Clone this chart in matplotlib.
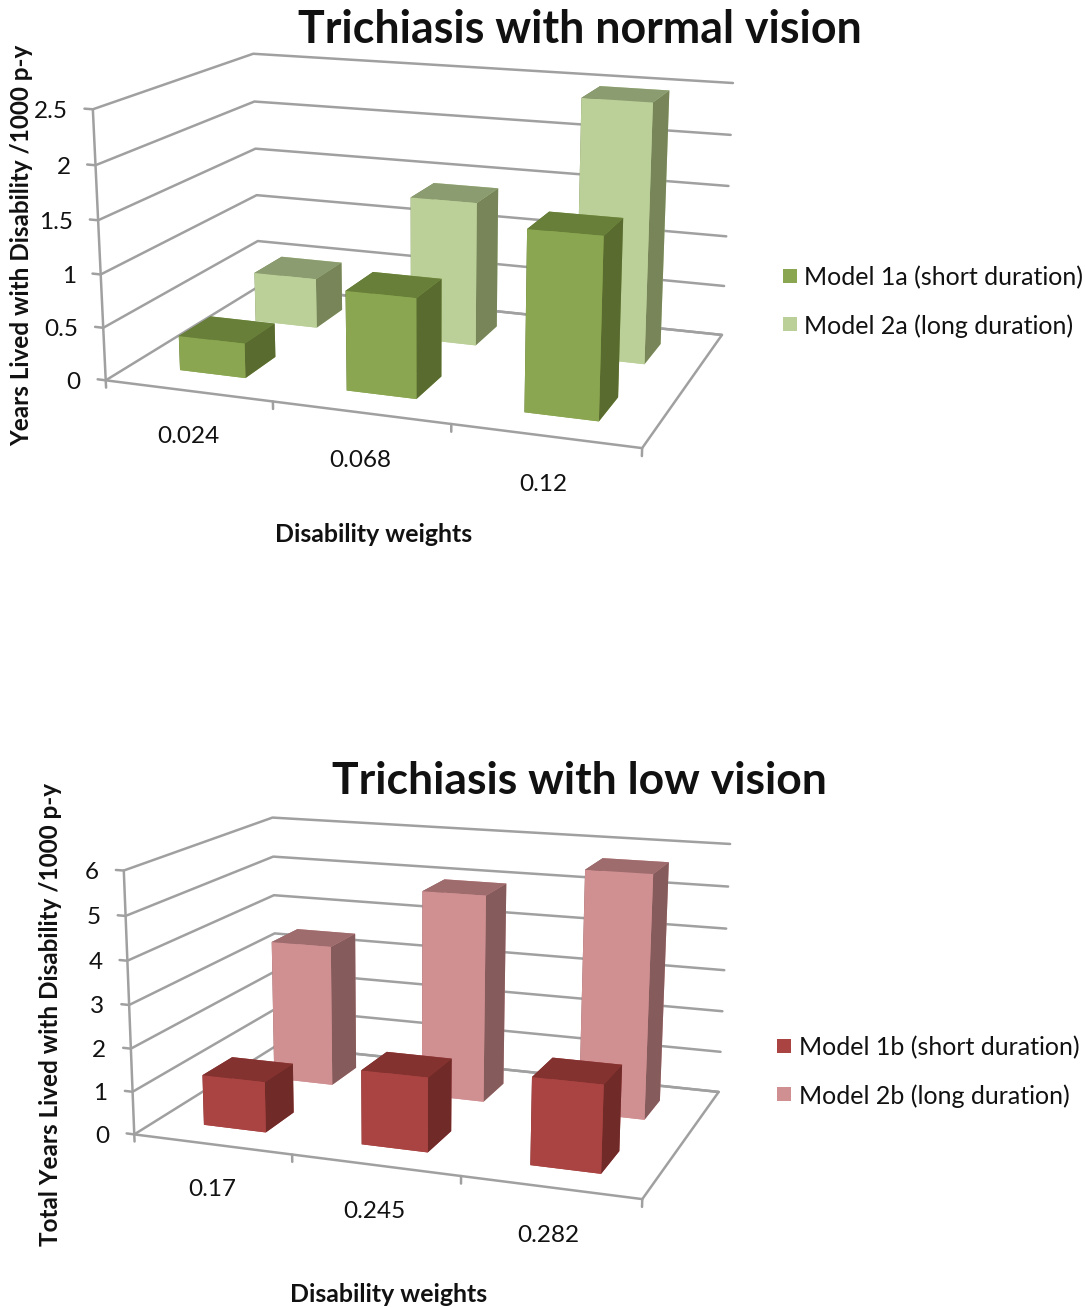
import matplotlib
matplotlib.use('Agg')
import matplotlib.pyplot as plt
import numpy as np
from matplotlib.patches import Rectangle

W, H = 1085, 1307

plt.rcParams['font.family'] = ['Lato', 'DejaVu Sans']

# values
weights_a = ['0.024', '0.068', '0.12']
model_1a = [0.33, 0.93, 1.64]
model_2a = [0.50, 1.41, 2.48]
ticks_a = [0, 0.5, 1, 1.5, 2, 2.5]
tick_labels_a = ['0', '0.5', '1', '1.5', '2', '2.5']

weights_b = ['0.17', '0.245', '0.282']
model_1b = [1.18, 1.70, 1.96]
model_2b = [3.44, 4.95, 5.70]
ticks_b = [0, 1, 2, 3, 4, 5, 6]
tick_labels_b = ['0', '1', '2', '3', '4', '5', '6']

# colours of a bar: front, side, top
greens = ('#8aa650', '#5a6b30', '#677f38')
light_greens = ('#bbd098', '#778559', '#8b9c70')
reds = ('#a94442', '#702a28', '#843230')
pinks = ('#d09092', '#865b5c', '#9f6c6e')
GRID = '#a0a0a0'
INK = '#111111'


def fit_camera(world, pixels):
    # 3x4 camera matrix from box corners and where they sit in the image
    rows = []
    for (x, y, z), (u, v) in zip(world, pixels):
        rows.append([x, y, z, 1, 0, 0, 0, 0, -u*x, -u*y, -u*z, -u])
        rows.append([0, 0, 0, 0, x, y, z, 1, -v*x, -v*y, -v*z, -v])
    P = np.linalg.svd(np.array(rows))[2][-1].reshape(3, 4)
    if P[2] @ np.array([1.5, 0.5, 0, 1]) < 0:
        P = -P
    return P


def text_px(u, v, s, **kw):
    # text placed in image pixels, lato sits a bit high when centred
    return fig.text(u/W, 1 - (v + 2)/H, s, va='center', color=INK, **kw)


def box_chart(world, pixels, cats, front, back, ticks, tick_labels,
              front_cols, back_cols):
    zmax = ticks[-1]
    P = fit_camera(world, pixels)

    def to_px(x, y, z):
        u, v, w = P @ np.array([x, y, z, 1])
        return u/w, v/w

    ax = fig.add_axes([0, 0, 1, 1], projection='3d')
    ax.set_axis_off()
    ax.patch.set_visible(False)
    ax.computed_zorder = False
    ax.apply_aspect = lambda position=None: None

    def get_proj():
        flip = np.array([[1, 0, 0], [0, -1, H], [0, 0, 1]])
        A = ax.transData.inverted().get_matrix() @ flip @ P
        return np.vstack([A[0], A[1], [0, 0, 0, -1], A[2]])
    ax.get_proj = get_proj

    def line(xs, ys, zs):
        ax.plot(xs, ys, zs, color=GRID, lw=1.8, zorder=1,
                solid_capstyle='round')

    # walls and floor
    for z, lab in zip(ticks, tick_labels):
        line([-0.05, 0, 0, 3], [0, 0, 1, 1], [z, z, z, z])
        u, v = to_px(0, 0, z)
        text_px(u - 25, v, lab, fontsize=17.5, ha='right')
    line([0, 0], [0, 0], [0, zmax])
    line([0, 3, 3, 0], [0, 0, 1, 1], [0, 0, 0, 0])
    for i in range(4):
        line([i, i], [0, 0], [0, -0.028*zmax])
    for i, lab in enumerate(cats):
        u, v = to_px(i + 0.495, 0, -0.165*zmax)
        text_px(u, v + 1, lab, fontsize=17.5, ha='center')

    # bars, 150% gap in width and depth
    for vals, yc, cols, zo in ((back, 0.75, back_cols, 2),
                               (front, 0.25, front_cols, 3)):
        f, s, t = cols
        for i, v in enumerate(vals):
            # bottom, top, front, back, left, right
            ax.bar3d(i + 0.3, yc - 0.1, 0, 0.4, 0.2, v,
                     color=[f, t, f, f, s, s], shade=False, linewidth=0,
                     zorder=zo)
    return ax


def legend(x, ys, text_x, labels, cols):
    for y, lab, c in zip(ys, labels, cols):
        fig.add_artist(Rectangle((x/W, 1 - (y + 7)/H), 14/W, 14/H,
                                 transform=fig.transFigure, color=c, lw=0))
        text_px(text_x, y, lab, fontsize=18)


fig = plt.figure(figsize=(W/100, H/100), dpi=100)

box_chart([(0, 0, 0), (0, 0, 2.5), (0, 1, 2.5), (0, 1, 0),
           (3, 1, 2.5), (3, 1, 0), (3, 0, 0)],
          [(105.7, 380.7), (93, 109), (253, 54), (259, 286),
           (733, 83), (722, 335), (642, 448)],
          weights_a, model_1a, model_2a, ticks_a, tick_labels_a,
          greens, light_greens)

box_chart([(0, 0, 0), (0, 0, 6), (0, 1, 6), (0, 1, 0),
           (3, 1, 6), (3, 1, 0), (3, 0, 0)],
          [(135, 1135), (123.3, 870), (273, 818), (276, 1045),
           (730, 844), (719, 1092), (642, 1199)],
          weights_b, model_1b, model_2b, ticks_b, tick_labels_b,
          reds, pinks)

text_px(580, 28, 'Trichiasis with normal vision', fontsize=32.2,
        fontweight='bold', ha='center')
text_px(579, 779, 'Trichiasis with low vision', fontsize=32,
        fontweight='bold', ha='center')
text_px(374, 533, 'Disability weights', fontsize=17.9, fontweight='bold', ha='center')
text_px(389, 1292, 'Disability weights', fontsize=17.9, fontweight='bold', ha='center')
fig.text(21.5/W, 1 - 245/H, 'Years Lived with Disability /1000 p-y', fontsize=17.5,
         fontweight='bold', rotation=90, ha='center', va='center', color=INK)
fig.text(50.5/W, 1 - 1015/H, 'Total Years Lived with Disability /1000 p-y', fontsize=17.5,
         fontweight='bold', rotation=90, ha='center', va='center', color=INK)

legend(783, [276, 324], 804, ['Model 1a (short duration)', 'Model 2a (long duration)'],
       [greens[0], light_greens[0]])
legend(777, [1046, 1094], 799, ['Model 1b (short duration)', 'Model 2b (long duration)'],
       [reds[0], pinks[0]])

fig.savefig('out.png', dpi=100)
